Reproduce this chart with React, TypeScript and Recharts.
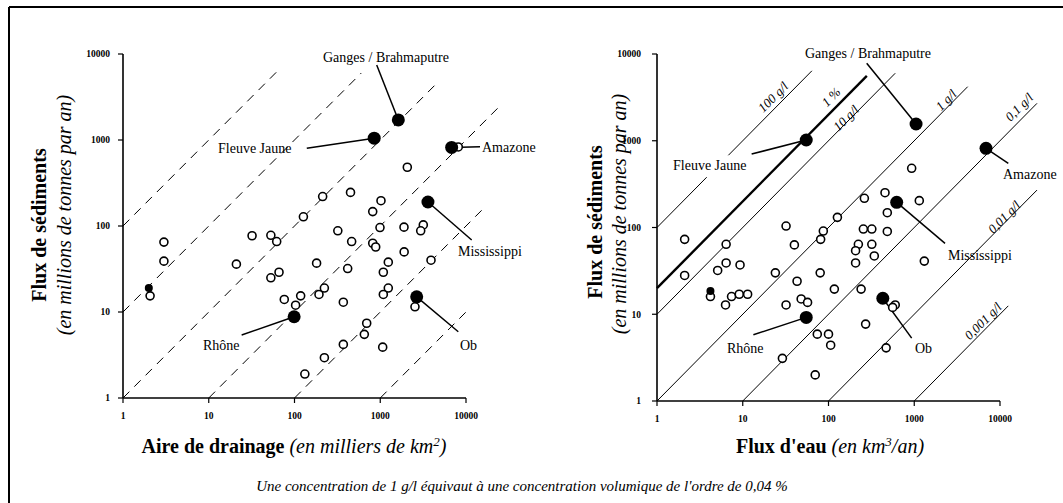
import React from 'react';
import { ScatterChart, Scatter, XAxis, YAxis, ReferenceLine } from 'recharts';

const SERIF = '"Liberation Serif", "Times New Roman", serif';

// Decade ticks shared by all axes
const decadeTicks = [1, 10, 100, 1000, 10000];

// Named rivers
const riverNames = ['Ganges / Brahmaputre', 'Fleuve Jaune', 'Amazone', 'Mississippi', 'Ob', 'Rhône'];
const riverArea = [1625, 850, 6800, 3600, 2660, 99];
const riverSedimentA = [1710, 1050, 820, 190, 15, 8.8];
const riverWater = [1050, 55, 6870, 624, 430, 55];
const riverSedimentW = [1560, 1020, 818, 195, 15.3, 9.2];

// Other rivers, left chart (drainage area, sediment flux)
const areaOpen: [number, number][] = [
  [3, 65], [3, 39], [2.07, 15.4], [21, 36], [32, 77], [53, 78], [62, 66], [66, 29], [53, 25],
  [76, 14], [103, 12], [118, 15.4], [127, 128], [213, 220], [450, 246], [320, 88], [464, 66],
  [181, 37], [193, 16], [223, 19], [371, 13], [417, 32], [132, 1.9], [223, 2.94], [371, 4.2],
  [652, 5.5], [695, 7.4], [1068, 3.9], [817, 147], [1020, 197], [993, 96], [817, 63], [885, 57],
  [1241, 38], [1086, 29], [1241, 19], [1086, 16], [1892, 97], [1900, 50], [3177, 103],
  [2963, 88], [3908, 40], [2541, 11.5], [2068, 482], [8128, 830],
];
const areaSmallFilled: [number, number][] = [[2, 19]];

// Other rivers, right chart (water flux, sediment flux)
const waterOpen: [number, number][] = [
  [2.1, 73], [2.1, 28], [4.2, 16], [6.4, 64], [6.4, 39], [5.1, 32], [9.3, 37], [6.3, 12.8],
  [7.4, 16], [9.1, 17], [11.4, 17], [24, 30], [32, 104], [40, 63], [43, 24], [32, 12.8],
  [48, 15], [57, 13.7], [29, 3.1], [70, 2], [74, 5.9], [100, 5.9], [106, 4.4], [80, 30],
  [81, 73], [87, 91], [127, 131], [117, 19.5], [262, 217], [255, 96], [320, 96], [223, 64],
  [207, 54], [207, 39], [320, 64], [342, 47], [240, 19.5], [271, 7.7], [485, 148], [485, 90],
  [600, 12.8], [560, 12], [470, 4.1], [1310, 41], [1145, 204], [456, 252], [933, 481],
];
const waterSmallFilled: [number, number][] = [[4.2, 18.5]];

// Dashed ratio lines (left): y = k * x from xStart to xEnd
const dashRatio = [100, 10, 1, 0.1, 0.01, 0.001];
const dashStart = [1, 1, 1, 10, 100, 1000];
const dashEnd = [68, 600, 4300, 25000, 17000, 11000];

// Concentration lines (right), g/l : y = k * x
const concLabels = ['100 g/l', '1 %', '10 g/l', '1 g/l', '0,1 g/l', '0,01 g/l', '0,001 g/l'];
const concRatio = [100, 20, 10, 1, 0.1, 0.01, 0.001];
const concStart = [1, 1, 1, 1, 10, 100, 1000];
const concEnd = [64, 280, 600, 4200, 27000, 27000, 12500];
const concWidth = [1, 2.4, 1, 1, 1, 1, 1];
const concGap = [3.8, 6.8]; // gap in the 100 g/l line around its label

// Leader line far ends (data coords) for each named river
const leaderLeft: [number, number][] = [
  [909, 7450], [139, 800], [14560, 836], [11650, 68.7], [8130, 5.9], [24.2, 5.4],
];
const leaderRight: [number, number][] = [
  [279, 7810], [12.7, 703], [12500, 550], [2285, 65.7], [933, 5.3], [13.3, 5.8],
];

const toPts = (a: [number, number][]) => a.map(([x, y]) => ({ x, y }));

const OpenDot = (p: any) => (
  <circle cx={p.cx} cy={p.cy} r={4} fill="#fff" stroke="#000" strokeWidth={1.6} />
);
const SmallFilled = (p: any) => <circle cx={p.cx} cy={p.cy} r={4} fill="#000" />;
const BigDot = (p: any) => <circle cx={p.cx} cy={p.cy} r={6.5} fill="#000" />;

const tickStyle = { fontSize: 9.5, fontWeight: 'bold' as const, fill: '#000', fontFamily: SERIF };

function axes(yMargin: number) {
  return [
    <XAxis
      key="x"
      type="number"
      dataKey="x"
      scale="log"
      domain={[1, 10000]}
      ticks={decadeTicks}
      interval={0}
      allowDataOverflow
      tick={tickStyle}
      tickLine={{ stroke: '#000', strokeWidth: 1.2 }}
      axisLine={{ stroke: '#000', strokeWidth: 1.6 }}
      tickSize={5}
      tickMargin={9}
      height={30}
    />,
    <YAxis
      key="y"
      type="number"
      dataKey="y"
      scale="log"
      domain={[1, 10000]}
      ticks={decadeTicks}
      interval={0}
      allowDataOverflow
      tick={tickStyle}
      tickLine={{ stroke: '#000', strokeWidth: 1.2 }}
      axisLine={{ stroke: '#000', strokeWidth: 1.6 }}
      tickSize={5}
      tickMargin={yMargin}
      width={50}
    />,
  ];
}

const leftNamed = riverNames.map((n, i) => ({ x: riverArea[i], y: riverSedimentA[i], name: n }));
const rightNamed = riverNames.map((n, i) => ({ x: riverWater[i], y: riverSedimentW[i], name: n }));

const labelPosLeft: [number, number][] = [
  [323, 62], [218, 153], [482, 152], [458, 256], [460, 350], [203, 350],
];
const labelPosRight: [number, number][] = [
  [805, 58], [673, 170], [1003, 179], [948, 260], [915, 353], [727, 353],
];
const concLabelPos: [number, number][] = [
  [773, 97], [831, 97], [846, 118], [946, 100], [1019, 107], [1004, 217], [983, 321],
];

export default function App() {
  return (
    <div style={{ position: 'absolute', left: 0, top: 0, width: 1063, height: 503, background: '#fff', fontFamily: SERIF }}>
      <div style={{ position: 'absolute', left: 0, top: 0 }}>
        <ScatterChart width={540} height={503} margin={{ top: 54, right: 74, bottom: 75, left: 73 }}>
          {axes(8)}
          {dashRatio.map((k, i) => (
            <ReferenceLine
              key={'d' + i}
              segment={[{ x: dashStart[i], y: dashStart[i] * k }, { x: dashEnd[i], y: dashEnd[i] * k }]}
              stroke="#000"
              strokeWidth={1}
              strokeDasharray="9 7"
              ifOverflow="visible"
            />
          ))}
          {leftNamed.map((r, i) => (
            <ReferenceLine
              key={'l' + i}
              segment={[{ x: r.x, y: r.y }, { x: leaderLeft[i][0], y: leaderLeft[i][1] }]}
              stroke="#000"
              strokeWidth={1.5}
              ifOverflow="visible"
            />
          ))}
          <Scatter data={toPts(areaOpen)} shape={OpenDot} isAnimationActive={false} />
          <Scatter data={toPts(areaSmallFilled)} shape={SmallFilled} isAnimationActive={false} />
          <Scatter data={leftNamed} shape={BigDot} isAnimationActive={false} />
        </ScatterChart>
      </div>
      <div style={{ position: 'absolute', left: 540, top: 0 }}>
        <ScatterChart width={523} height={503} margin={{ top: 54, right: 63, bottom: 72, left: 67 }}>
          {axes(11)}
          {concRatio.map((k, i) =>
            i === 0 ? (
              [
                <ReferenceLine
                  key="c0a"
                  segment={[{ x: concStart[0], y: concStart[0] * k }, { x: concGap[0], y: concGap[0] * k }]}
                  stroke="#000"
                  strokeWidth={concWidth[0]}
                  ifOverflow="visible"
                />,
                <ReferenceLine
                  key="c0b"
                  segment={[{ x: concGap[1], y: concGap[1] * k }, { x: concEnd[0], y: concEnd[0] * k }]}
                  stroke="#000"
                  strokeWidth={concWidth[0]}
                  ifOverflow="visible"
                />,
              ]
            ) : (
              <ReferenceLine
                key={'c' + i}
                segment={[{ x: concStart[i], y: concStart[i] * k }, { x: concEnd[i], y: concEnd[i] * k }]}
                stroke="#000"
                strokeWidth={concWidth[i]}
                ifOverflow="visible"
              />
            )
          )}
          {rightNamed.map((r, i) => (
            <ReferenceLine
              key={'r' + i}
              segment={[{ x: r.x, y: r.y }, { x: leaderRight[i][0], y: leaderRight[i][1] }]}
              stroke="#000"
              strokeWidth={1.5}
              ifOverflow="visible"
            />
          ))}
          <Scatter data={toPts(waterOpen)} shape={OpenDot} isAnimationActive={false} />
          <Scatter data={toPts(waterSmallFilled)} shape={SmallFilled} isAnimationActive={false} />
          <Scatter data={rightNamed} shape={BigDot} isAnimationActive={false} />
        </ScatterChart>
      </div>
      <svg
        width={1063}
        height={503}
        style={{ position: 'absolute', left: 0, top: 0, pointerEvents: 'none' }}
        fontFamily={SERIF}
      >
        <line x1={9} y1={7} x2={1063} y2={7} stroke="#000" strokeWidth={2} />
        <line x1={9} y1={7} x2={9} y2={503} stroke="#000" strokeWidth={2} />

        {riverNames.map((n, i) => (
          <text key={'tl' + i} x={labelPosLeft[i][0]} y={labelPosLeft[i][1]} fontSize={14} fill="#000">
            {n}
          </text>
        ))}
        {riverNames.map((n, i) => (
          <text key={'tr' + i} x={labelPosRight[i][0]} y={labelPosRight[i][1]} fontSize={14} fill="#000">
            {n}
          </text>
        ))}
        {concLabels.map((l, i) => (
          <text
            key={'cl' + i}
            transform={`translate(${concLabelPos[i][0]},${concLabelPos[i][1]}) rotate(-45)`}
            textAnchor="middle"
            dominantBaseline="central"
            fontSize={13}
            fontStyle="italic"
            fill="#000"
          >
            {l}
          </text>
        ))}

        {/* Y titles */}
        <text transform="translate(46,225) rotate(-90)" textAnchor="middle" fontSize={20} fontWeight="bold" fill="#000">
          Flux de sédiments
        </text>
        <text transform="translate(71,215) rotate(-90)" textAnchor="middle" fontSize={20} fontStyle="italic" fill="#000">
          (en millions de tonnes par an)
        </text>
        <text transform="translate(602,222) rotate(-90)" textAnchor="middle" fontSize={20} fontWeight="bold" fill="#000">
          Flux de sédiments
        </text>
        <text transform="translate(626,214) rotate(-90)" textAnchor="middle" fontSize={20} fontStyle="italic" fill="#000">
          (en millions de tonnes par an)
        </text>

        {/* X titles */}
        <text x={294} y={453} textAnchor="middle" fontSize={20} fill="#000">
          <tspan fontWeight="bold">Aire de drainage </tspan>
          <tspan fontStyle="italic">(en milliers de km</tspan>
          <tspan fontStyle="italic" fontSize={13} dy={-7}>2</tspan>
          <tspan fontStyle="italic" dy={7}>)</tspan>
        </text>
        <text x={830} y={453} textAnchor="middle" fontSize={20} fill="#000">
          <tspan fontWeight="bold">Flux d'eau </tspan>
          <tspan fontStyle="italic">(en km</tspan>
          <tspan fontStyle="italic" fontSize={13} dy={-7}>3</tspan>
          <tspan fontStyle="italic" dy={7}>/an)</tspan>
        </text>

        {/* Footnote */}
        <text x={522} y={491} textAnchor="middle" fontSize={15} fontStyle="italic" fill="#000">
          Une concentration de 1 g/l équivaut à une concentration volumique de l'ordre de 0,04 %
        </text>
      </svg>
    </div>
  );
}
